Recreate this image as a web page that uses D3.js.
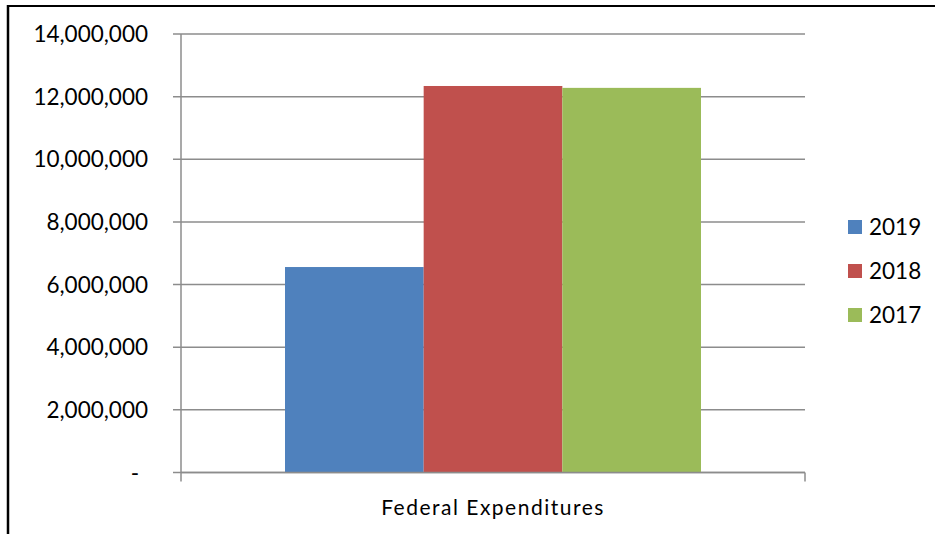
<!DOCTYPE html>
<html>
<head>
<meta charset="utf-8">
<script src="https://cdn.jsdelivr.net/npm/d3@7"></script>
<style>
	body { margin: 0; background: #ffffff; }
	svg text { font-family: Lato, "Open Sans", sans-serif; fill: #000000; }
</style>
</head>
<body>
<div id="chart"></div>
<script>
/* chart data */
var categories = ["Federal Expenditures"];
var series_Names = ["2019", "2018", "2017"];
var series_Values = [6560000, 12340000, 12280000];
var series_Colours = ["#4F81BD", "#C0504D", "#9BBB59"];
var y_Ticks = [0, 2000000, 4000000, 6000000, 8000000, 10000000, 12000000, 14000000];

var width = 935, height = 534;
var plot = { left: 181, right: 805, top: 34, bottom: 472.5 };

var svg = d3.select("#chart").append("svg")
	.attr("width", width)
	.attr("height", height);

/* outer frame (only top and left edges are visible) */
svg.append("line").attr("x1", 8).attr("x2", width).attr("y1", 6).attr("y2", 6)
	.attr("stroke", "#000").attr("stroke-width", 2);
svg.append("line").attr("x1", 8).attr("x2", 8).attr("y1", 5).attr("y2", height)
	.attr("stroke", "#000").attr("stroke-width", 2.5);

var y = d3.scaleLinear().domain([0, 14000000]).range([plot.bottom, plot.top]);

var x_Category = d3.scaleBand().domain(categories)
	.range([plot.left, plot.right])
	.paddingInner(0).paddingOuter(0);

/* bar width: gap width 150% of a bar on each category */
var x_Series = d3.scaleBand().domain(series_Names)
	.range([0, x_Category.bandwidth()])
	.paddingInner(0)
	.paddingOuter(0.75);

/* horizontal gridlines */
svg.append("g").selectAll("line").data(y_Ticks).enter().append("line")
	.attr("x1", plot.left - 8).attr("x2", plot.right)
	.attr("y1", function(d){ return y(d); })
	.attr("y2", function(d){ return y(d); })
	.attr("stroke", "#8c8c8c").attr("stroke-width", 1.5);

/* bars */
svg.append("g").selectAll("rect").data(series_Values).enter().append("rect")
	.attr("x", function(d, i){ return x_Category(categories[0]) + x_Series(series_Names[i]); })
	.attr("width", x_Series.bandwidth())
	.attr("y", function(d){ return y(d); })
	.attr("height", function(d){ return y(0) - y(d); })
	.attr("fill", function(d, i){ return series_Colours[i]; });

/* axis lines and tick marks */
svg.append("line").attr("x1", plot.left).attr("x2", plot.left)
	.attr("y1", plot.top).attr("y2", plot.bottom + 9)
	.attr("stroke", "#8c8c8c").attr("stroke-width", 1.5);
svg.append("line").attr("x1", plot.left).attr("x2", plot.right)
	.attr("y1", plot.bottom).attr("y2", plot.bottom)
	.attr("stroke", "#8c8c8c").attr("stroke-width", 1.5);
svg.append("line").attr("x1", plot.right).attr("x2", plot.right)
	.attr("y1", plot.bottom).attr("y2", plot.bottom + 9)
	.attr("stroke", "#8c8c8c").attr("stroke-width", 1.5);

/* y tick labels */
var number_Format = d3.format(",");
svg.append("g").selectAll("text").data(y_Ticks).enter().append("text")
	.attr("x", function(d){ return d === 0 ? 139 : 148; })
	.attr("y", function(d){ return y(d); })
	.attr("dy", "0.36em")
	.attr("text-anchor", "end")
	.style("font-size", "22.5px")
	.text(function(d){ return d === 0 ? "-" : number_Format(d); });

/* category label */
svg.append("text")
	.attr("x", x_Category(categories[0]) + x_Category.bandwidth() / 2)
	.attr("y", 515)
	.attr("text-anchor", "middle")
	.style("font-size", "21px")
	.style("letter-spacing", "1.5px")
	.text(categories[0]);

/* legend */
var legend = svg.append("g").selectAll("g").data(series_Names).enter().append("g")
	.attr("transform", function(d, i){ return "translate(848," + (227 + i * 44) + ")"; });

legend.append("rect")
	.attr("x", 0).attr("y", -7)
	.attr("width", 14).attr("height", 14)
	.attr("fill", function(d, i){ return series_Colours[i]; });

legend.append("text")
	.attr("x", 21).attr("y", 0)
	.attr("dy", "0.36em")
	.style("font-size", "22.5px")
	.text(function(d){ return d; });
</script>
</body>
</html>
